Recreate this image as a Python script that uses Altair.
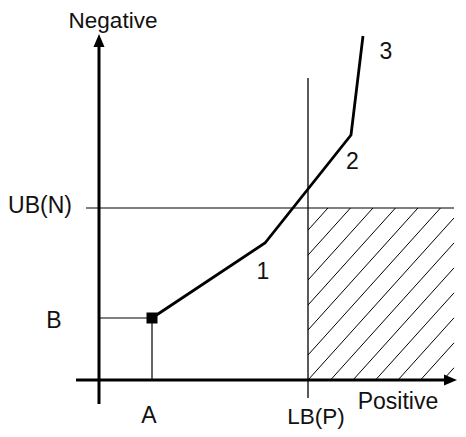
import altair as alt
import pandas as pd

# ---- values (chart units; origin at axis crossing) ----
curve_x = [5.3, 16.6, 25.2, 26.4]
curve_y = [6.2, 13.7, 24.5, 34.4]
curve_labels = ["1", "2", "3"]
curve_label_x = [16.4, 25.35, 28.7]
curve_label_y = [10.8, 21.8, 32.85]

point_A = 5.3
point_B = 6.2
LB_P = 20.9
UB_N = 17.2

x_axis_span = [-2.3, 35.8]
y_axis_span = [-2.4, 34.6]
lb_line_span = [-1.8, 30.2]
ub_line_span = [-1.3, 35.5]
hatch_right = 35.5
hatch_spacing = 2.25
hatch_slope = 1.11

text_labels = ["Negative", "UB(N)", "B", "A", "LB(P)", "Positive"]
text_x = [1.4, -5.9, -4.5, 5.0, 21.7, 29.9]
text_y = [35.95, 17.45, 5.9, -3.6, -3.7, -2.2]
text_size = [22.5, 23, 23, 23, 22.5, 23]

# ---- scales ----
XS = alt.Scale(domain=[-9.1, 35.9], nice=False, zero=False)
YS = alt.Scale(domain=[-4.9, 37.2], nice=False, zero=False)
FONT = "Liberation Sans"
ARROW_LEN = 1.3
ARROW_PATH = "M0,-1L0.85,1L-0.85,1Z"

# hatch segments clipped to the region right of LB(P), below UB(N)
hatch_rows = []
for k in range(-12, 13):
    x0 = LB_P + k * hatch_spacing
    xa = max(LB_P, x0)
    xb = min(hatch_right, x0 + UB_N / hatch_slope)
    if xb - xa > 0.05:
        hatch_rows.append({"x": xa, "y": hatch_slope * (xa - x0),
                           "x2": xb, "y2": hatch_slope * (xb - x0)})
hatch_df = pd.DataFrame(hatch_rows)

guides_df = pd.DataFrame([
    {"x": ub_line_span[0], "x2": ub_line_span[1], "y": UB_N, "y2": UB_N, "w": 1.1},
    {"x": LB_P, "x2": LB_P, "y": lb_line_span[0], "y2": lb_line_span[1], "w": 1.3},
    {"x": point_A, "x2": point_A, "y": 0, "y2": point_B, "w": 1.2},
    {"x": 0, "x2": point_A, "y": point_B, "y2": point_B, "w": 1.2},
    {"x": x_axis_span[0], "x2": x_axis_span[1] - ARROW_LEN / 2, "y": 0, "y2": 0, "w": 3},
    {"x": 0, "x2": 0, "y": y_axis_span[0], "y2": y_axis_span[1] - ARROW_LEN / 2, "w": 3},
])

arrows_df = pd.DataFrame([
    {"x": 0, "y": y_axis_span[1] - ARROW_LEN / 2, "a": 0},
    {"x": x_axis_span[1] - ARROW_LEN / 2, "y": 0, "a": 90},
])

curve_df = pd.DataFrame({"x": curve_x, "y": curve_y, "o": list(range(len(curve_x)))})
marker_df = pd.DataFrame({"x": [point_A], "y": [point_B]})
labels_df = pd.DataFrame({"t": text_labels + curve_labels,
                          "x": text_x + curve_label_x,
                          "y": text_y + curve_label_y,
                          "s": text_size + [23] * len(curve_labels)})

hatch = alt.Chart(hatch_df).mark_rule(color="#000", strokeWidth=1).encode(
    x=alt.X("x:Q", scale=XS, axis=None), y=alt.Y("y:Q", scale=YS, axis=None),
    x2="x2:Q", y2="y2:Q")

guides = alt.Chart(guides_df).mark_rule(color="#000").encode(
    x=alt.X("x:Q", scale=XS, axis=None), y=alt.Y("y:Q", scale=YS, axis=None),
    x2="x2:Q", y2="y2:Q", strokeWidth=alt.StrokeWidth("w:Q", scale=None))

arrows = alt.Chart(arrows_df).mark_point(
    shape=ARROW_PATH, filled=True, color="#000", opacity=1, size=169, strokeWidth=0
).encode(x=alt.X("x:Q", scale=XS, axis=None), y=alt.Y("y:Q", scale=YS, axis=None),
         angle=alt.Angle("a:Q", scale=None))

curve = alt.Chart(curve_df).mark_line(color="#000", strokeWidth=2.8).encode(
    x=alt.X("x:Q", scale=XS, axis=None), y=alt.Y("y:Q", scale=YS, axis=None),
    order="o:Q")

marker = alt.Chart(marker_df).mark_point(
    shape="square", filled=True, color="#000", opacity=1, size=121
).encode(x=alt.X("x:Q", scale=XS, axis=None), y=alt.Y("y:Q", scale=YS, axis=None))

labels = alt.Chart(labels_df).mark_text(
    font=FONT, color="#111", align="center", baseline="middle"
).encode(x=alt.X("x:Q", scale=XS, axis=None), y=alt.Y("y:Q", scale=YS, axis=None),
         text="t:N", size=alt.Size("s:Q", scale=None))

chart = alt.layer(hatch, guides, arrows, curve, marker, labels).properties(
    width=450, height=421, padding=0,
    autosize=alt.AutoSizeParams(type="none"),
    background="white",
).configure_view(stroke=None)

chart.save("out.html", embed_options={"renderer": "svg", "actions": False})
